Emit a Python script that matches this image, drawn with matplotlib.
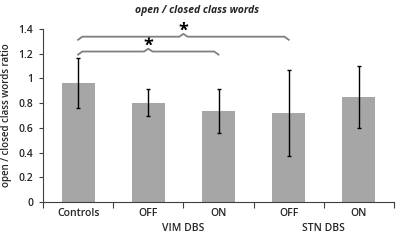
import matplotlib
matplotlib.use("Agg")
import matplotlib.pyplot as plt
import numpy as np

categories = ["Controls", "OFF", "ON", "OFF", "ON"]
groups = ["VIM DBS", "STN DBS"]
values = [0.965, 0.805, 0.735, 0.72, 0.848]
errors = [0.2, 0.11, 0.18, 0.35, 0.25]
yticks = [0, 0.2, 0.4, 0.6, 0.8, 1, 1.2, 1.4]
ytick_labels = ["0", "0.2", "0.4", "0.6", "0.8", "1", "1.2", "1.4"]

plt.rcParams['font.family'] = ['Open Sans', 'DejaVu Sans']
txtc = '#262626'

fig = plt.figure(figsize=(4, 2.44), dpi=100)
ax = fig.add_axes([0.1075, 0.172, 0.8775, 0.709])
x = np.arange(len(categories))
ax.bar(x, values, width=0.47, color='#a6a6a6', zorder=2)
ax.errorbar(x, values, yerr=errors, fmt='none', ecolor='black', elinewidth=1.0,
            capsize=1.5, capthick=1.0, zorder=3)

ax.set_xlim(-0.5, len(categories) - 0.5)
ax.set_ylim(0, 1.4)
ax.set_yticks(yticks)
ax.set_yticklabels(ytick_labels, fontsize=7.5, fontweight='semibold', color=txtc)
ax.set_xticks(np.arange(-0.5, len(categories)))
ax.set_xticklabels([])
ax.tick_params(axis='x', direction='out', length=4, color='#404040', width=0.8)
ax.tick_params(axis='y', direction='out', length=3, color='#404040', width=0.8, pad=4)
for s in ['top', 'right']:
    ax.spines[s].set_visible(False)
for s in ['left', 'bottom']:
    ax.spines[s].set_color('#404040')
    ax.spines[s].set_linewidth(0.8)

for xi, lab in zip(x, categories):
    ax.text(xi, -0.09, lab, ha='center', va='center', fontsize=7.5,
            fontweight='semibold', color=txtc, clip_on=False)
ax.text(1.5, -0.215, groups[0], ha='center', va='center', fontsize=7.5,
        fontweight='semibold', color=txtc, clip_on=False)
ax.text(3.5, -0.215, groups[1], ha='center', va='center', fontsize=7.5,
        fontweight='semibold', color=txtc, clip_on=False)

ax.set_ylabel("open / closed class words ratio", fontsize=7, fontweight='semibold',
              color=txtc, labelpad=5)
fig.text(0.492, 0.955, "open / closed class words", ha='center', va='center',
         fontsize=7.5, fontweight='bold', style='italic', color=txtc)

def brace(x0, x1, y, star_y):
    d = 0.025
    xm = (x0 + x1) / 2
    w = 0.06
    xs = [x0, x0 + w, xm - w, xm, xm + w, x1 - w, x1]
    ys = [y - d, y, y, y + d * 0.9, y, y, y - d]
    ax.plot(xs, ys, color='#7f7f7f', lw=1.3, clip_on=False, zorder=4,
            solid_joinstyle='round')
    ax.text(xm, star_y, "*", ha='center', va='center', fontsize=13,
            fontweight='bold', color='black', clip_on=False)

brace(0, 2, 1.218, 1.265)
brace(0, 3, 1.338, 1.385)

fig.savefig("out.png", dpi=100)
